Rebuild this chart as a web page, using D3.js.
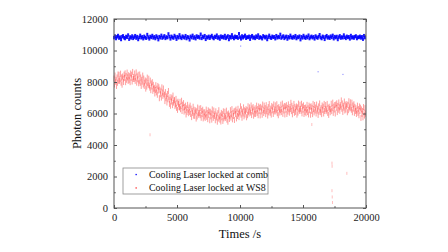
<!DOCTYPE html>
<html>
<head>
<meta charset="utf-8">
<script src="https://cdn.jsdelivr.net/npm/d3@7"></script>
<style>
  html, body { margin: 0; padding: 0; background: #fff; }
  svg { display: block; font-family: "Liberation Serif", "Times New Roman", serif; }
  .axis path { display: none; }
  .axis line { stroke: #555; }
  .axis text { fill: #222; font-size: 10.5px; font-family: "Liberation Serif", serif; }
</style>
</head>
<body>
<svg id="chart" width="448" height="252"></svg>
<script>
// Sampling intervals (s)
const combStep = 80;
const ws8Step = 40;

// Cooling laser locked at comb - photon counts
const combCounts = [
  10820,10910,10760,10870,10950,10790,10850,10700,10880,10930,
  10810,10760,10890,10840,10980,10720,10860,10800,10920,10770,
  10850,10940,10790,10880,10700,10830,10960,10810,10870,10750,
  10900,10820,10780,11010,10850,10740,10890,10830,10950,10800,
  10870,10760,10920,10840,10690,10880,10810,10960,10790,10850,
  10930,10770,10860,10820,11050,10880,10740,10900,10830,10790,
  10950,10860,10720,10880,10810,10990,10840,10770,10910,10850,
  10800,10940,10760,10870,10830,10680,10900,10820,10960,10790,
  10860,10750,10920,10840,10880,10800,11030,10770,10890,10830,
  10940,10710,10860,10810,10900,10780,10870,10950,10820,10760,
  10890,10840,10970,10790,10860,10730,10910,10830,10880,10800,
  10950,10770,10850,10920,10700,10880,10810,10990,10840,10760,
  10900,10830,10870,10790,11060,10850,10740,10920,10810,10880,
  10960,10780,10860,10830,10900,10720,10870,10940,10800,10850,
  10770,10910,10840,10980,10790,10860,10820,10750,10930,10870,
  10810,10890,10700,10850,10960,10830,10780,10900,10840,10870,
  10750,10940,10810,10880,10830,11020,10790,10860,10920,10770,
  10850,10900,10730,10870,10810,10960,10840,10790,10880,10820,
  10940,10760,10860,10830,10910,10690,10870,10800,10950,10840,
  10780,10890,10820,10970,10760,10850,10900,10810,10870,10740,
  10920,10840,10790,10880,11000,10820,10760,10900,10850,10710,
  10870,10940,10800,10860,10780,10910,10830,10960,10750,10880,
  10820,10890,10700,10850,10930,10790,10860,10810,10980,10840,
  10770,10900,10830,10870,10740,10950,10810,10860,10790,10880,
  10920,10760,10850,10830,10900,10800,10870,10720,10940,10820
];

// Cooling laser locked at WS8 - photon counts
const ws8Counts = [
  8220,7840,8410,8020,8140,7750,8290,7950,8480,8080,
  8460,8070,8180,8530,7960,8290,7830,8350,8210,8000,
  8470,8260,8550,7990,8380,8140,8600,8290,8070,8430,
  8110,8370,7990,8540,8260,8460,8030,8640,8190,8320,
  8190,8540,8070,8280,8610,7960,8360,8170,8460,7920,
  8080,8480,7950,8290,7750,8140,8020,8410,7840,8220,
  7750,7960,8100,7580,8040,7710,8280,7930,7820,8210,
  7770,7640,8090,7480,7910,7710,7990,7440,7820,7560,
  7630,7270,7490,7800,7340,7580,7190,7750,7460,7670,
  6970,7510,7220,7410,7010,7660,7330,7120,7590,7240,
  7170,6790,7360,6970,7090,6700,7240,6900,7430,7030,
  6610,6870,6490,7040,6760,6960,6530,7140,6690,6820,
  6860,6470,6580,6930,6360,6690,6230,6750,6610,6400,
  6390,6740,6270,6480,6810,6160,6560,6370,6660,6120,
  6420,6210,6500,5940,6330,6090,6550,6240,6020,6380,
  6100,6500,5970,6310,5770,6160,6040,6430,5860,6240,
  5850,6060,6200,5680,6140,5810,6380,6030,5920,6310,
  6020,5890,6340,5730,6160,5960,6240,5690,6070,5810,
  6080,5720,5940,6250,5790,6030,5640,6200,5910,6120,
  5570,6110,5820,6010,5610,6260,5930,5720,6190,5840,
  5950,5570,6140,5750,5870,5480,6020,5680,6210,5810,
  5610,5870,5490,6040,5760,5960,5530,6140,5690,5820,
  6110,5720,5830,6180,5610,5940,5480,6000,5860,5650,
  5860,6210,5740,5950,6280,5630,6030,5840,6130,5590,
  6170,5960,6250,5690,6080,5840,6300,5990,5770,6130,
  6060,6460,5930,6270,5730,6120,6000,6390,5820,6200,
  5930,6140,6280,5760,6220,5890,6460,6110,6000,6390,
  6190,6060,6510,5900,6330,6130,6410,5860,6240,5980,
  6330,5970,6190,6500,6040,6280,5890,6450,6160,6370,
  5880,6420,6130,6320,5920,6570,6240,6030,6500,6150,
  6340,5960,6530,6140,6260,5870,6410,6070,6600,6200,
  6050,6310,5930,6480,6200,6400,5970,6580,6130,6260,
  6520,6130,6240,6590,6020,6350,5890,6410,6270,6060,
  6210,6560,6090,6300,6630,5980,6380,6190,6480,5940,
  6450,6240,6530,5970,6360,6120,6580,6270,6050,6410,
  6280,6680,6150,6490,5950,6340,6220,6610,6040,6420,
  6100,6310,6450,5930,6390,6060,6630,6280,6170,6560,
  6300,6170,6620,6010,6440,6240,6520,5970,6350,6090,
  6380,6020,6240,6550,6090,6330,5940,6500,6210,6420,
  5920,6460,6170,6360,5960,6610,6280,6070,6540,6190,
  6380,6000,6570,6180,6300,5910,6450,6110,6640,6240,
  6080,6340,5960,6510,6230,6430,6000,6610,6160,6290,
  6540,6150,6260,6610,6040,6370,5910,6430,6290,6080,
  6270,6620,6150,6360,6690,6040,6440,6250,6540,6000,
  6570,6360,6650,6090,6480,6240,6700,6390,6170,6530,
  6430,6830,6300,6640,6100,6490,6370,6760,6190,6570,
  6250,6460,6600,6080,6540,6210,6780,6430,6320,6710,
  6370,6240,6690,6080,6510,6310,6590,6040,6420,6160,
  6330,5970,6190,6500,6040,6280,5890,6450,6160,6370,
  5720,6260,5970,6160,5760,6410,6080,5870,6340,5990
];

// isolated stray points
const combOutliers = [
  { t: 10050, v: 10280 },
  { t: 16200, v: 8650 },
  { t: 18170, v: 8480 }
];
const ws8Outliers = [
  { t: 2860, v: 4650 },
  { t: 15700, v: 5300 },
  { t: 17300, v: 2850 },
  { t: 17310, v: 2650 },
  { t: 17300, v: 1100 },
  { t: 17320, v: 700 },
  { t: 17340, v: 350 },
  { t: 18480, v: 2200 }
];

const xTicks = [0, 5000, 10000, 15000, 20000];
const yTicks = [0, 2000, 4000, 6000, 8000, 10000, 12000];
const xMinor = [2500, 7500, 12500, 17500];
const yMinor = [1000, 3000, 5000, 7000, 9000, 11000];
const legendLabels = ['Cooling Laser locked at comb', 'Cooling Laser locked at WS8'];
const colors = ['#0000ff', '#ff2a2a'];

const margin = { top: 19, right: 82, bottom: 44, left: 114 };
const width = 448, height = 252;
const innerW = width - margin.left - margin.right;
const innerH = height - margin.top - margin.bottom;

const svg = d3.select('#chart');
const g = svg.append('g').attr('transform', `translate(${margin.left},${margin.top})`);

const x = d3.scaleLinear().domain([0, 20000]).range([0, innerW]);
const y = d3.scaleLinear().domain([0, 12000]).range([innerH, 0]);

const toPoints = (arr, step) => arr.map((v, i) => ({ t: i * step, v }));

// red series first so blue sits on top
g.append('g').selectAll('rect')
  .data(toPoints(ws8Counts, ws8Step))
  .enter().append('rect')
  .attr('x', d => x(d.t) - 0.5)
  .attr('y', d => y(d.v) - 3)
  .attr('width', 1)
  .attr('height', 6)
  .attr('fill', colors[1])
  .attr('opacity', 0.45);

g.append('g').selectAll('rect')
  .data(ws8Outliers)
  .enter().append('rect')
  .attr('x', d => x(d.t) - 0.5)
  .attr('y', d => y(d.v) - 1.5)
  .attr('width', 1)
  .attr('height', 3)
  .attr('fill', colors[1])
  .attr('opacity', 0.3);

g.append('g').selectAll('rect')
  .data(toPoints(combCounts, combStep))
  .enter().append('rect')
  .attr('x', d => x(d.t) - 1)
  .attr('y', d => y(d.v) - 1.75)
  .attr('width', 2)
  .attr('height', 3.5)
  .attr('fill', colors[0])
  .attr('opacity', 0.9);

g.append('g').selectAll('rect')
  .data(combOutliers)
  .enter().append('rect')
  .attr('x', d => x(d.t) - 0.6)
  .attr('y', d => y(d.v) - 0.6)
  .attr('width', 1.2)
  .attr('height', 1.2)
  .attr('fill', colors[0])
  .attr('opacity', 0.4);

// frame
g.append('rect')
  .attr('width', innerW).attr('height', innerH)
  .attr('fill', 'none').attr('stroke', '#555').attr('stroke-width', 1);

// major axes (ticks point inward)
g.append('g').attr('class', 'axis')
  .attr('transform', `translate(0,${innerH})`)
  .call(d3.axisBottom(x).tickValues(xTicks).tickSize(-3).tickPadding(6).tickFormat(d3.format('d')));
g.append('g').attr('class', 'axis')
  .call(d3.axisLeft(y).tickValues(yTicks).tickSize(-3).tickPadding(6).tickFormat(d3.format('d')));
g.append('g').attr('class', 'axis')
  .call(d3.axisTop(x).tickValues(xTicks).tickSize(-3).tickFormat(''));
g.append('g').attr('class', 'axis')
  .attr('transform', `translate(${innerW},0)`)
  .call(d3.axisRight(y).tickValues(yTicks).tickSize(-3).tickFormat(''));

// minor ticks
g.append('g').attr('class', 'axis')
  .attr('transform', `translate(0,${innerH})`)
  .call(d3.axisBottom(x).tickValues(xMinor).tickSize(-1.8).tickFormat(''));
g.append('g').attr('class', 'axis')
  .call(d3.axisTop(x).tickValues(xMinor).tickSize(-1.8).tickFormat(''));
g.append('g').attr('class', 'axis')
  .call(d3.axisLeft(y).tickValues(yMinor).tickSize(-1.8).tickFormat(''));
g.append('g').attr('class', 'axis')
  .attr('transform', `translate(${innerW},0)`)
  .call(d3.axisRight(y).tickValues(yMinor).tickSize(-1.8).tickFormat(''));

// axis titles
svg.append('text')
  .attr('x', margin.left + innerW / 2)
  .attr('y', 238)
  .attr('text-anchor', 'middle')
  .style('font-size', '12.5px')
  .style('fill', '#111')
  .text('Times /s');

svg.append('text')
  .attr('transform', `translate(81,${margin.top + innerH / 2}) rotate(-90)`)
  .attr('text-anchor', 'middle')
  .style('font-size', '12.5px')
  .style('fill', '#111')
  .text('Photon counts');

// legend
const legend = svg.append('g').attr('transform', 'translate(123,168)');
legend.append('rect')
  .attr('width', 145).attr('height', 26)
  .attr('fill', '#fff').attr('stroke', '#888').attr('stroke-width', 0.8);

const items = legend.selectAll('.legend-item')
  .data(legendLabels)
  .enter().append('g')
  .attr('class', 'legend-item')
  .attr('transform', (d, i) => `translate(0,${6.5 + i * 13.4})`);

items.append('rect')
  .attr('x', 12.5).attr('y', -0.6)
  .attr('width', 1.3).attr('height', 1.3)
  .attr('fill', (d, i) => colors[i]);

items.append('text')
  .attr('x', 26)
  .attr('y', 3.5)
  .style('font-size', '9.9px')
  .style('fill', '#111')
  .text(d => d);
</script>
</body>
</html>
